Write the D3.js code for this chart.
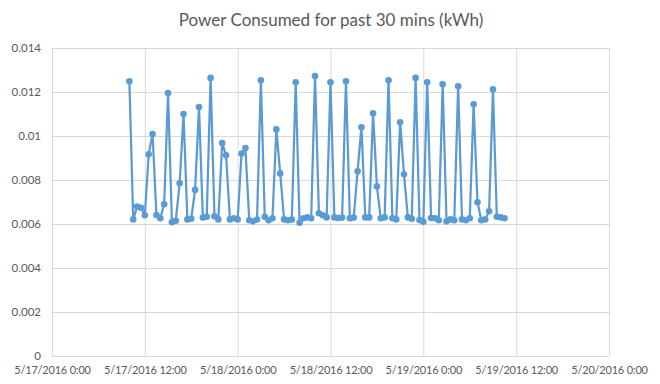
<!DOCTYPE html>
<html>
<head>
<meta charset="utf-8">
<script src="https://cdn.jsdelivr.net/npm/d3@7"></script>
<style>
  body { margin: 0; background: #fff; }
  text { font-family: Lato, "Open Sans", sans-serif; }
</style>
</head>
<body>
<svg id="chart" width="660" height="384"></svg>
<script>
// readings every 30 minutes starting 5/17/2016 10:00
const startTime = "5/17/2016 10:00";
const kwh = [
  0.01249, 0.00621, 0.00679, 0.00674, 0.00640, 0.00917, 0.01009, 0.00641, 0.00626, 0.00690,
  0.01195, 0.00608, 0.00615, 0.00785, 0.01100, 0.00621, 0.00624, 0.00755, 0.01132, 0.00629,
  0.00633, 0.01264, 0.00635, 0.00621, 0.00968, 0.00912, 0.00621, 0.00626, 0.00621, 0.00920,
  0.00945, 0.00617, 0.00612, 0.00620, 0.01253, 0.00633, 0.00617, 0.00626, 0.01030, 0.00830,
  0.00621, 0.00617, 0.00620, 0.01244, 0.00606, 0.00626, 0.00630, 0.00626, 0.01273, 0.00649,
  0.00640, 0.00630, 0.01244, 0.00630, 0.00627, 0.00629, 0.01249, 0.00626, 0.00629, 0.00840,
  0.01040, 0.00630, 0.00630, 0.01103, 0.00771, 0.00626, 0.00630, 0.01253, 0.00626, 0.00621,
  0.01062, 0.00826, 0.00630, 0.00624, 0.01264, 0.00618, 0.00610, 0.01244, 0.00627, 0.00626,
  0.00617, 0.01235, 0.00612, 0.00621, 0.00617, 0.01226, 0.00621, 0.00617, 0.00626, 0.01144,
  0.00699, 0.00617, 0.00621, 0.00658, 0.01212, 0.00633, 0.00630, 0.00626
];
const xDomain = ["5/17/2016 0:00", "5/20/2016 0:00"];
const yTicks = [0, 0.002, 0.004, 0.006, 0.008, 0.01, 0.012, 0.014];

const parse = d3.timeParse("%m/%d/%Y %H:%M");
const t0 = parse(startTime);
const times = d3.timeMinute.every(30).range(t0, d3.timeMinute.offset(t0, 30 * kwh.length));
const data = kwh.map((v, i) => ({ t: times[i], v }));

const svg = d3.select("#chart");
const margin = { top: 48, right: 51, bottom: 28, left: 52 };
const width = 660, height = 384;

const x = d3.scaleTime()
  .domain(xDomain.map(parse))
  .range([margin.left, width - margin.right]);
const y = d3.scaleLinear()
  .domain([0, 0.014])
  .range([height - margin.bottom, margin.top]);

// title
svg.append("text")
  .attr("x", 331)
  .attr("y", 26)
  .attr("text-anchor", "middle")
  .attr("font-size", "17px")
  .attr("fill", "#595959")
  .text("Power Consumed for past 30 mins (kWh)");

// horizontal gridlines
svg.append("g")
  .attr("transform", `translate(${margin.left},0)`)
  .call(d3.axisLeft(y).tickValues(yTicks).tickSize(-(width - margin.left - margin.right))
    .tickFormat(d => d3.format("~g")(d)).tickPadding(11))
  .call(g => g.select(".domain").remove())
  .call(g => g.selectAll(".tick line").attr("stroke", "#d9d9d9"))
  .call(g => g.selectAll(".tick text").attr("fill", "#595959").attr("font-size", "11.5px"));

// vertical gridlines / date axis
const xTicks = d3.timeHour.every(12).range(x.domain()[0], d3.timeHour.offset(x.domain()[1], 1));
const fmt = d => `${d.getMonth() + 1}/${d.getDate()}/${d.getFullYear()} ${d.getHours()}:00`;
svg.append("g")
  .attr("transform", `translate(0,${height - margin.bottom})`)
  .call(d3.axisBottom(x).tickValues(xTicks).tickSize(-(height - margin.top - margin.bottom))
    .tickFormat(fmt).tickPadding(10))
  .call(g => g.select(".domain").remove())
  .call(g => g.selectAll(".tick line").attr("stroke", "#d9d9d9"))
  .call(g => g.selectAll(".tick text").attr("fill", "#595959").attr("font-size", "11px")
    .attr("letter-spacing", "-0.2px"));

// series
svg.append("path")
  .datum(data)
  .attr("fill", "none")
  .attr("stroke", "#5b9bd5")
  .attr("stroke-width", 2.25)
  .attr("stroke-linejoin", "round")
  .attr("d", d3.line().x(d => x(d.t)).y(d => y(d.v)));

svg.append("g")
  .selectAll("circle")
  .data(data)
  .enter().append("circle")
  .attr("cx", d => x(d.t))
  .attr("cy", d => y(d.v))
  .attr("r", 3.3)
  .attr("fill", "#5b9bd5");
</script>
</body>
</html>
